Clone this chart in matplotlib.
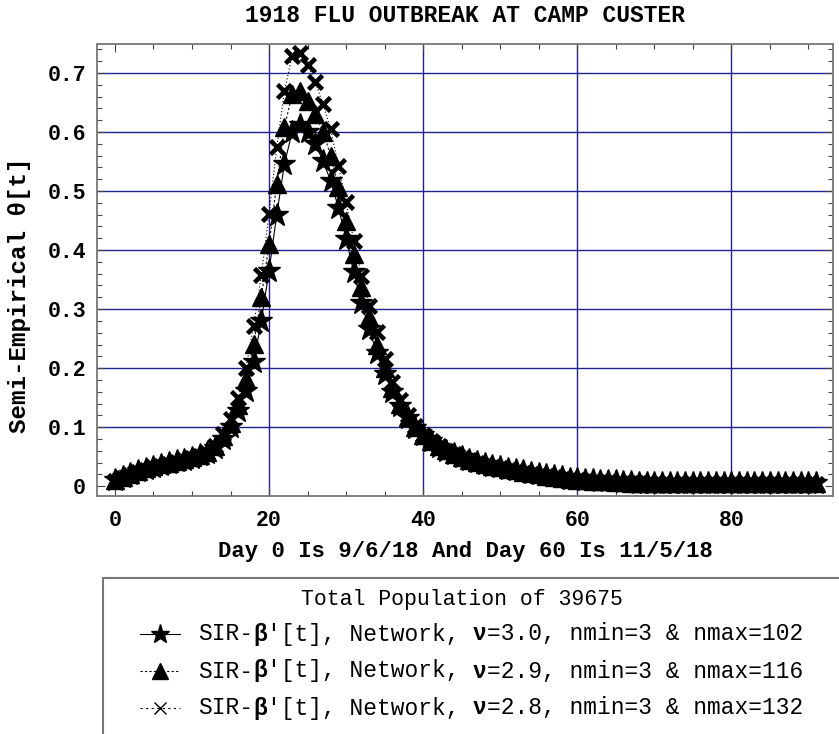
import numpy as np
import matplotlib
matplotlib.use('Agg')
import matplotlib.pyplot as plt
from matplotlib.lines import Line2D
from matplotlib.patches import Rectangle
from matplotlib.ticker import MultipleLocator

plt.rcParams['font.family'] = ['Liberation Mono', 'DejaVu Sans Mono']

# day index 0..91
days = np.arange(92)

# nu = 3.0, nmax = 102 (stars)
theta_30 = [0.010, 0.015, 0.020, 0.025, 0.029, 0.033, 0.036, 0.039, 0.042, 0.045,
            0.048, 0.052, 0.056, 0.065, 0.080, 0.100, 0.127, 0.162, 0.210, 0.280,
            0.365, 0.460, 0.546, 0.600, 0.612, 0.600, 0.580, 0.551, 0.517, 0.472,
            0.419, 0.362, 0.311, 0.266, 0.225, 0.190, 0.160, 0.135, 0.115, 0.099,
            0.086, 0.076, 0.067, 0.060, 0.054, 0.049, 0.045, 0.041, 0.038, 0.035,
            0.032, 0.029, 0.027, 0.025, 0.023, 0.021, 0.019, 0.017, 0.015, 0.013,
            0.012, 0.011, 0.010, 0.009, 0.008, 0.008, 0.007, 0.007, 0.006, 0.006,
            0.006, 0.005, 0.005, 0.005, 0.005, 0.005, 0.005, 0.005, 0.005, 0.005,
            0.005, 0.005, 0.005, 0.005, 0.005, 0.005, 0.005, 0.005, 0.005, 0.005,
            0.005, 0.005]

# nu = 2.9, nmax = 116 (triangles)
theta_29 = [0.011, 0.016, 0.021, 0.026, 0.030, 0.034, 0.037, 0.040, 0.043, 0.046,
            0.049, 0.053, 0.058, 0.068, 0.085, 0.107, 0.137, 0.181, 0.241, 0.320,
            0.410, 0.512, 0.608, 0.664, 0.670, 0.653, 0.630, 0.600, 0.560, 0.506,
            0.450, 0.393, 0.337, 0.286, 0.240, 0.200, 0.167, 0.140, 0.118, 0.100,
            0.087, 0.077, 0.068, 0.061, 0.055, 0.050, 0.045, 0.041, 0.038, 0.035,
            0.032, 0.029, 0.027, 0.024, 0.022, 0.020, 0.018, 0.016, 0.014, 0.013,
            0.011, 0.010, 0.009, 0.008, 0.008, 0.007, 0.007, 0.006, 0.006, 0.005,
            0.005, 0.005, 0.005, 0.005, 0.005, 0.005, 0.005, 0.005, 0.005, 0.005,
            0.005, 0.005, 0.005, 0.005, 0.005, 0.005, 0.005, 0.005, 0.005, 0.005,
            0.005, 0.005]

# nu = 2.8, nmax = 132 (crosses)
theta_28 = [0.009, 0.014, 0.019, 0.024, 0.028, 0.032, 0.035, 0.038, 0.041, 0.044,
            0.047, 0.051, 0.056, 0.068, 0.088, 0.114, 0.150, 0.200, 0.272, 0.357,
            0.461, 0.574, 0.670, 0.729, 0.734, 0.714, 0.685, 0.647, 0.605, 0.543,
            0.481, 0.416, 0.356, 0.306, 0.261, 0.215, 0.176, 0.146, 0.121, 0.102,
            0.087, 0.077, 0.068, 0.060, 0.054, 0.048, 0.044, 0.040, 0.036, 0.033,
            0.030, 0.027, 0.025, 0.023, 0.021, 0.019, 0.017, 0.015, 0.013, 0.012,
            0.010, 0.009, 0.008, 0.007, 0.007, 0.006, 0.006, 0.005, 0.005, 0.005,
            0.004, 0.004, 0.004, 0.004, 0.004, 0.004, 0.004, 0.004, 0.004, 0.004,
            0.004, 0.004, 0.004, 0.004, 0.004, 0.004, 0.004, 0.004, 0.004, 0.004,
            0.004, 0.004]

nus = ['3.0', '2.9', '2.8']
nmaxs = [102, 116, 132]
x_ticks = [0, 20, 40, 60, 80]
y_ticks = [0, 0.1, 0.2, 0.3, 0.4, 0.5, 0.6, 0.7]
y_ticklabels = ['0', '0.1', '0.2', '0.3', '0.4', '0.5', '0.6', '0.7']

W, H = 839, 734
fig = plt.figure(figsize=(W / 100, H / 100), dpi=100)
ax = fig.add_axes([97 / W, 1 - 496 / H, (833 - 97) / W, (496 - 44) / H])

navy = '#1f1f8f'
for v in [20, 40, 60, 80]:
    ax.axvline(v, color=navy, lw=1.0, zorder=1)
for v in y_ticks[1:]:
    ax.axhline(v, color=navy, lw=1.0, zorder=1)

# triangles first, then crosses, stars on top
ax.plot(days, theta_29, color='black', lw=0.8, ls=(0, (2, 2)),
        marker='^', ms=13, mfc='black', mec='black', zorder=3)
ax.plot(days, theta_28, color='black', lw=0.8, ls=(0, (1, 2)),
        marker='x', ms=10.5, mew=3.3, mec='black', zorder=4)
ax.plot(days, theta_30, color='black', lw=0.8, ls='-',
        marker='*', ms=17, mfc='black', mec='black', zorder=5)

ax.set_xlim(-2.33, 93.2)
ax.set_ylim(-0.0166, 0.749)
ax.set_xticks(x_ticks)
ax.set_yticks(y_ticks)
ax.set_yticklabels(y_ticklabels)
ax.xaxis.set_minor_locator(MultipleLocator(5))
ax.yaxis.set_minor_locator(MultipleLocator(0.02))
ax.tick_params(which='both', direction='in', top=True, right=True,
               color='#444444', width=0.8)
ax.tick_params(which='major', length=6, labelsize=15.5, pad=8)
ax.tick_params(axis='x', which='major', pad=10)
ax.tick_params(which='minor', length=3.5)
for lab in ax.get_xticklabels() + ax.get_yticklabels():
    lab.set_fontweight('bold')
for sp in ax.spines.values():
    sp.set_color('#777777')
    sp.set_linewidth(1.3)

ax.set_title('1918 FLU OUTBREAK AT CAMP CUSTER', fontsize=16.5,
             fontweight='bold', pad=16)
ax.set_xlabel('Day 0 Is 9/6/18 And Day 60 Is 11/5/18', fontsize=16,
              fontweight='bold', labelpad=7)
ax.set_ylabel('Semi-Empirical θ[t]', fontsize=17.5, fontweight='bold',
              va='center')
ax.yaxis.set_label_coords(-0.105, 0.445)

# legend box (runs off the bottom/right edge like the original)
fig.add_artist(Rectangle((103 / W, -0.2), 2.0, (1 - 578 / H) + 0.2,
                         transform=fig.transFigure, fill=False,
                         edgecolor='#777777', lw=1.5))
fig.text(462 / W, 1 - 599 / H, 'Total Population of 39675', fontsize=15.5,
         ha='center', va='center')

handle_styles = [dict(ls='-', marker='*', ms=14, mew=1),
                 dict(ls=(0, (2, 2)), marker='^', ms=12, mew=1),
                 dict(ls=(0, (2, 3)), marker='x', ms=9, mew=1)]
rows_y = [634, 671, 708]
fs = 16.5
char_w = 0.6 * fs * 100 / 72
for nu, nmax, st, py in zip(nus, nmaxs, handle_styles, rows_y):
    fy = 1 - py / H
    fig.add_artist(Line2D([140 / W, 160 / W, 180 / W], [fy, fy, fy],
                          transform=fig.transFigure, color='black', lw=0.8,
                          markevery=[1], mfc='black', mec='black', **st))
    pieces = [('SIR-', 'normal'), ('β', 'bold'), ("'[t], Network, ", 'normal'),
              ('ν', 'bold'), ('=%s, nmin=3 & nmax=%d' % (nu, nmax), 'normal')]
    x0 = 198
    col = 0
    for txt, wt in pieces:
        fig.text((x0 + col * char_w) / W, fy, txt, fontsize=fs,
                 fontweight=wt, ha='left', va='center')
        col += len(txt)

fig.savefig('out.png', dpi=100)
